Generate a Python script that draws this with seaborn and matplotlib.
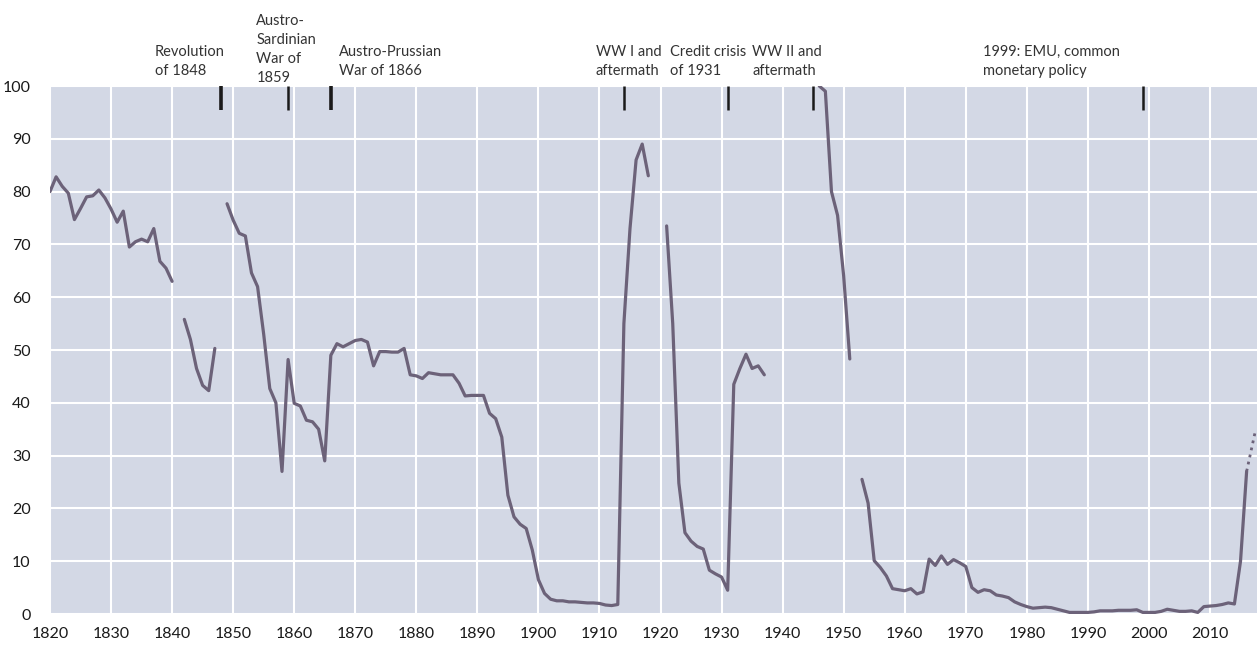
import numpy as np
import pandas as pd
import matplotlib
matplotlib.use("Agg")
import matplotlib.pyplot as plt
import seaborn as sns

# Yearly values (NaN = no data / break in the line)
years = list(range(1820, 2017))
values = [
    # 1820-1829
    80.0, 82.8, 81.0, 79.7, 74.7, 76.8, 79.0, 79.2, 80.3, 78.8,
    # 1830-1839
    76.7, 74.2, 76.3, 69.5, 70.5, 71.0, 70.5, 73.0, 66.8, 65.5,
    # 1840-1849
    63.0, np.nan, 55.8, 52.0, 46.5, 43.3, 42.3, 50.3, np.nan, 77.7,
    # 1850-1859
    74.6, 72.1, 71.6, 64.6, 62.0, 53.0, 42.7, 40.0, 27.0, 48.2,
    # 1860-1869
    39.9, 39.4, 36.7, 36.4, 35.0, 29.0, 49.0, 51.2, 50.6, 51.2,
    # 1870-1879
    51.8, 52.0, 51.5, 47.0, 49.7, 49.7, 49.6, 49.6, 50.3, 45.3,
    # 1880-1889
    45.1, 44.6, 45.7, 45.5, 45.3, 45.3, 45.3, 43.7, 41.3, 41.4,
    # 1890-1899
    41.4, 41.4, 38.0, 37.0, 33.5, 22.5, 18.4, 17.0, 16.2, 12.1,
    # 1900-1909
    6.5, 3.9, 2.8, 2.5, 2.5, 2.3, 2.3, 2.2, 2.1, 2.1,
    # 1910-1919
    2.0, 1.7, 1.6, 1.8, 55.0, 73.0, 86.0, 89.0, 83.0, np.nan,
    # 1920-1929
    np.nan, 73.5, 55.0, 24.8, 15.4, 13.8, 12.8, 12.3, 8.3, 7.6,
    # 1930-1939
    7.0, 4.5, 43.5, 46.5, 49.2, 46.5, 47.0, 45.3, np.nan, np.nan,
    # 1940-1949
    np.nan, np.nan, np.nan, np.nan, np.nan, np.nan, 100.0, 99.0, 80.0, 75.5,
    # 1950-1959
    64.0, 48.3, np.nan, 25.5, 21.0, 10.1, 8.8, 7.2, 4.8, 4.6,
    # 1960-1969
    4.4, 4.8, 3.8, 4.2, 10.4, 9.2, 11.0, 9.4, 10.3, 9.7,
    # 1970-1979
    9.0, 5.0, 4.1, 4.6, 4.4, 3.6, 3.4, 3.1, 2.3, 1.8,
    # 1980-1989
    1.4, 1.1, 1.2, 1.3, 1.2, 0.9, 0.6, 0.3, 0.3, 0.3,
    # 1990-1999
    0.3, 0.4, 0.6, 0.6, 0.6, 0.7, 0.7, 0.7, 0.8, 0.3,
    # 2000-2009
    0.3, 0.3, 0.5, 0.9, 0.7, 0.5, 0.5, 0.6, 0.3, 1.4,
    # 2010-2016
    1.5, 1.6, 1.8, 2.1, 1.9, 10.0, 27.0,
]

# dotted projection at the end
proj_years = [2016, 2017.4]
proj_values = [27.0, 34.5]

# historical events marked at the top
event_years = [1848, 1859, 1866, 1914, 1931, 1945, 1999]
event_widths = [2.6, 1.8, 2.6, 1.8, 1.8, 1.8, 1.8]
event_labels = [
    "Revolution\nof 1848",
    "Austro-\nSardinian\nWar of\n1859",
    "Austro-Prussian\nWar of 1866",
    "WW I and\naftermath",
    "Credit crisis\nof 1931",
    "WW II and\naftermath",
    "1999: EMU, common\nmonetary policy",
]
label_x = [1837.2, 1853.8, 1867.4, 1909.4, 1921.5, 1935.0, 1972.8]
label_y = [1.021, 1.0076, 1.021, 1.021, 1.021, 1.021, 1.021]

LINE_COLOR = "#6c6279"
BG_COLOR = "#d3d8e5"

df = pd.DataFrame({"year": years, "value": values})
df["segment"] = df["value"].isna().cumsum()
df = df.dropna()

sns.set_theme(style="darkgrid", rc={
    "axes.facecolor": BG_COLOR,
    "grid.color": "white",
    "grid.linewidth": 1.5,
})
plt.rcParams["font.family"] = ["Lato", "DejaVu Sans"]

fig = plt.figure(figsize=(12.57, 6.47), dpi=100)
ax = fig.add_axes([50 / 1257, 1 - 614 / 647, 1207 / 1257, 528 / 647])

sns.lineplot(data=df, x="year", y="value", units="segment", estimator=None,
             color=LINE_COLOR, linewidth=2.3, ax=ax)
ax.plot(proj_years, proj_values, linestyle=(0, (1, 1.6)), color=LINE_COLOR,
        linewidth=2.0)

ax.vlines(event_years, 95.4, 100, colors="#1a1a1a", linewidths=event_widths,
          zorder=5)

for txt, x, y in zip(event_labels, label_x, label_y):
    ax.text(x, y, txt, transform=ax.get_xaxis_transform(), ha="left",
            va="baseline", fontsize=10.5, color="#333333", linespacing=1.45,
            clip_on=False)

ax.set_xlim(1820, 2017.7)
ax.set_ylim(0, 100)
ax.set_xticks(range(1820, 2011, 10))
ax.set_yticks(range(0, 101, 10))
ax.tick_params(axis="both", length=0, labelsize=11.5, colors="#1a1a1a")
ax.tick_params(axis="x", pad=9)
ax.tick_params(axis="y", pad=14)
ax.set_xlabel("")
ax.set_ylabel("")
for s in ax.spines.values():
    s.set_visible(False)

fig.savefig("out.png", dpi=100)
plt.close(fig)
